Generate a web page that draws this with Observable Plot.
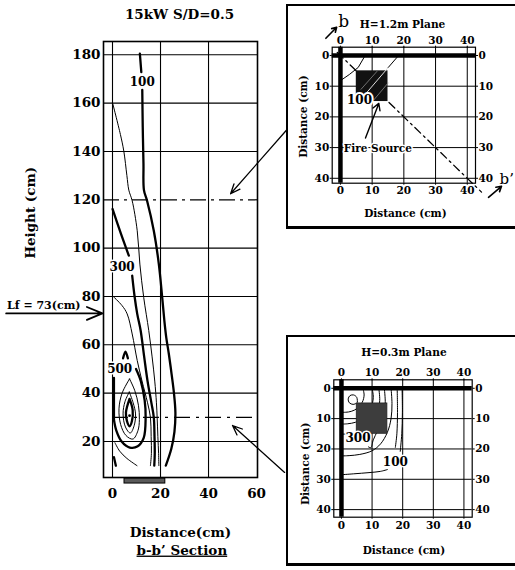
<!DOCTYPE html>
<html><head><meta charset="utf-8">
<script src="https://cdn.jsdelivr.net/npm/d3@7"></script>
<script src="https://cdn.jsdelivr.net/npm/@observablehq/plot@0.6"></script>
<style>
html,body{margin:0;padding:0;background:#fff;}
#page{position:relative;width:515px;height:570px;overflow:hidden;background:#fff;}
#page svg{position:absolute;}
.box{position:absolute;border:2px solid #000;border-bottom:3px solid #000;border-right:none;background:#fff;}
</style></head><body><div id="page"></div>
<script>
const FONT = "DejaVu Serif";
// ---------- main chart (b-b' section) ----------
const xTicks = [0, 20, 40, 60];
const yTicks = [20, 40, 60, 80, 100, 120, 140, 160, 180];
const xGrid = [0, 20, 40];
const yGrid = [20, 40, 60, 80, 100, 140, 160, 180];
const c100a = [[11.4,180.5],[12.0,172.8]];
const c100b = [[12.4,165.5],[12.6,150],[12.9,135],[13.1,124],[14.4,119.6],[17.2,107.2],[19.3,93.4],[20.7,79.6],[21.6,70],[22.4,63],[23.5,56],[24.6,48],[25.6,40],[26.2,32],[25.8,24],[24.5,17],[22.2,10]];
const c200 = [[0,160.2],[3.3,147],[4.7,140.2],[6.0,130],[6.8,124],[8.2,119.6],[10.3,107.2],[11.4,93.4],[13,79.6],[15.1,65.9],[16.5,55],[17.6,45],[18.3,36],[18.6,30],[18.9,22],[19.2,15],[19.3,10]];
const c300a = [[0,116.2],[3.5,106],[6.8,96.9]];
const c300b = [[8.2,88.6],[9.2,80],[10.3,72.8],[11.7,66],[13.2,55],[14.6,45],[16.2,36],[17.2,30],[17.5,22],[17.6,15],[17.4,10]];
const c400 = [[0,80.3],[4,76.2],[6.1,72.8],[8.2,64.5],[10.3,53.5],[12.3,45],[14.6,36],[15.8,30],[16.1,22],[16.2,15],[15.8,10]];
const c500 = [[0.6,29],[1.6,24.5],[3.8,20],[7.2,17.5],[10.5,18],[13,21.5],[13.8,30],[13.4,37],[11.8,45],[9.8,50]];
const c500wall = [[0.6,46.3],[0.6,29]];
const caret = [[4.4,54.4],[5.4,57.2],[6.4,54.4]];
const c600 = [[7.1,45.9],[9.3,41],[10.8,35],[11.2,29],[10.6,24.5],[8.5,21],[5.6,22.5],[3.4,27],[2.7,33.5],[4,40],[7.1,45.9]];
const c700 = [[7,40.5],[8.6,36],[9.6,31.4],[9,26.5],[7.4,23.5],[5.4,26],[4.4,31.4],[5.2,36.5],[7,40.5]];
const c800 = [[7.1,37.6],[8.4,33],[8.1,28.5],[7.1,26.3],[6,28.5],[5.6,32],[7.1,37.6]];
const cLow = [[1,19.5],[3,16],[6,13],[10.2,10]];
const cLowThick = [[0.6,13.5],[1.4,10]];
const hotSpot = [[7.1,30.7]];
const mainLabels = [["100",12.4,168.8],["300",4,92.3],["500",3,50]];
const sourceSpan = [5, 22];
const lf = 73;

const thickMain = [c100a, c100b, c300a, c300b, c500, c500wall, c800, caret, cLowThick];
const thinMain = [c200, c400, c600, c700, cLow];
const toRows = (list) => list.flatMap((pts, k) => pts.map(([x, y]) => ({x, y, k})));

const main = Plot.plot({
  width: 515, height: 570,
  marginLeft: 103, marginRight: 258, marginTop: 41, marginBottom: 93,
  x: {domain: [-3.75, 60.4]},
  y: {domain: [5.1, 185.5]},
  style: {fontFamily: FONT, fontSize: "13.5px", fontWeight: "bold", background: "transparent", color: "#000"},
  marks: [
    Plot.ruleX(xGrid, {stroke: "#000", strokeWidth: 1.1}),
    Plot.ruleY(yGrid, {stroke: "#000", strokeWidth: 1.1}),
    Plot.ruleY([120], {stroke: "#000", strokeWidth: 1.2, strokeDasharray: "16,5,3,5"}),
    Plot.ruleY([30], {x1: 0, x2: 60, stroke: "#000", strokeWidth: 1.3, strokeDasharray: "16,6,3,6"}),
    Plot.frame({stroke: "#000", strokeWidth: 1.6}),
    Plot.axisX({ticks: xTicks, tickSize: 0, tickPadding: 11, label: null}),
    Plot.axisY({ticks: yTicks, tickSize: 0, tickPadding: 3, label: null}),
    Plot.line(toRows(thinMain), {x: "x", y: "y", z: "k", stroke: "#000", strokeWidth: 1, curve: "catmull-rom"}),
    Plot.line(toRows(thickMain), {x: "x", y: "y", z: "k", stroke: "#000", strokeWidth: 2.3, curve: "catmull-rom"}),
    Plot.dot(hotSpot, {x: d => d[0], y: d => d[1], r: 1.4, fill: "#000"}),
    Plot.text(mainLabels, {x: d => d[1], y: d => d[2], text: d => d[0], fontSize: 12, fill: "#000", stroke: "#fff", strokeWidth: 3, paintOrder: "stroke"}),
    Plot.rect([sourceSpan], {x1: d => d[0], x2: d => d[1], y1: 4.6, y2: 2.6, fill: "#5a5a5a", stroke: "#000", strokeWidth: 1}),
    Plot.arrow([{x1: -44.3, x2: -4.2, y: lf}], {x1: "x1", x2: "x2", y1: "y", y2: "y", stroke: "#000", strokeWidth: 1.8, headLength: 14, headAngle: 45}),
    Plot.text(["Lf = 73(cm)"], {x: -43.9, y: 76.4, text: d => d, textAnchor: "start", fontSize: 11}),
    Plot.arrow([{x1: 72.9, y1: 149.3, x2: 49.2, y2: 122.5}, {x1: 71.7, y1: 7.2, x2: 50, y2: 26.6}],
      {x1: "x1", y1: "y1", x2: "x2", y2: "y2", stroke: "#000", strokeWidth: 1.3, headLength: 12, headAngle: 45}),
    Plot.text(["15kW S/D=0.5"], {x: 27.9, y: 196.4, text: d => d, fontSize: 13.5}),
    Plot.text(["Height (cm)"], {x: -34.2, y: 114.6, text: d => d, rotate: -90, fontSize: 13.5}),
    Plot.text(["Distance(cm)"], {x: 28.3, y: -17.6, text: d => d, fontSize: 13.5}),
    Plot.text(["b-b\u2019 Section"], {x: 28.9, y: -25, text: d => d, fontSize: 13.5})
  ]
});
main.style.left = "0px"; main.style.top = "0px";
main.querySelectorAll("text").forEach(t => { if (t.textContent === "b-b\u2019 Section") t.setAttribute("text-decoration", "underline"); });

// ---------- shared inset values ----------
const ticks10 = [0, 10, 20, 30, 40];
const grid10 = [10, 20, 30, 40];
const firePlan = [[5, 15, 5, 15]];
const insetAxes = (tp) => [
  Plot.axisX({anchor: "top", ticks: ticks10, tickSize: 2, tickPadding: tp, label: null}),
  Plot.axisX({anchor: "bottom", ticks: ticks10, tickSize: 2, tickPadding: tp, label: null}),
  Plot.axisY({anchor: "left", ticks: ticks10, tickSize: 2, tickPadding: 1, label: null}),
  Plot.axisY({anchor: "right", ticks: ticks10, tickSize: 2, tickPadding: 1, label: null})
];
const insetStyle = {fontFamily: FONT, fontSize: "10.5px", fontWeight: "bold", background: "transparent", color: "#000"};

// ---------- top inset: H=1.2m plane ----------
const t100a = [[0,8.2],[2.8,6.2],[5.6,3.9],[7.8,0]];
const t100b = [[15,4],[18.6,-0.3]];
const t100in = [[8.2,12.2],[15,4]];
const hatchTop = [[[10.5,14.5],[15,9]], [[6.5,11],[11.5,5.2]]];
const diag = [[-1,-1],[44.5,44.5]];
const topLabels = [["100", 6, 14.6]];

const topInset = Plot.plot({
  width: 225, height: 215, marginLeft: 41.7, marginRight: 40, marginTop: 38.7, marginBottom: 40.3,
  x: {domain: [-2.6, 42.6]}, y: {domain: [-2.7, 41.6], reverse: true},
  style: insetStyle,
  marks: [
    Plot.ruleX(grid10, {stroke: "#000", strokeWidth: 1}),
    Plot.ruleY(grid10, {stroke: "#000", strokeWidth: 1}),
    Plot.frame({stroke: "#000", strokeWidth: 1.2}),
    ...insetAxes(1),
    Plot.line(diag, {x: d => d[0], y: d => d[1], stroke: "#000", strokeWidth: 1.3, strokeDasharray: "8,4,2,4"}),
    Plot.line(t100a, {x: d => d[0], y: d => d[1], stroke: "#000", strokeWidth: 1}),
    Plot.line(t100b, {x: d => d[0], y: d => d[1], stroke: "#000", strokeWidth: 1}),
    Plot.rect(firePlan, {x1: d => d[0], x2: d => d[1], y1: d => d[2], y2: d => d[3], fill: "#111"}),
    Plot.line(t100in, {x: d => d[0], y: d => d[1], stroke: "#ddd", strokeWidth: 1}),
    Plot.line(hatchTop.flatMap((s, k) => s.map(p => ({x: p[0], y: p[1], k}))), {x: "x", y: "y", z: "k", stroke: "#888", strokeWidth: 0.8}),
    Plot.ruleX([0], {stroke: "#000", strokeWidth: 4.5}),
    Plot.ruleY([0], {stroke: "#000", strokeWidth: 4.5}),
    Plot.text(topLabels, {x: d => d[1], y: d => d[2], text: d => d[0], fontSize: 12, fill: "#000", stroke: "#fff", strokeWidth: 4, paintOrder: "stroke"}),
    Plot.arrow([{x1: 7.9, y1: 26.9, x2: 12.1, y2: 15.6}], {x1: "x1", y1: "y1", x2: "x2", y2: "y2", stroke: "#000", strokeWidth: 1.4, headLength: 8}),
    Plot.arrow([{x1: -4.6, y1: -5.6, x2: -1.2, y2: -9.2}, {x1: 46.7, y1: 46.2, x2: 50.8, y2: 42.6}],
      {x1: "x1", y1: "y1", x2: "x2", y2: "y2", stroke: "#000", strokeWidth: 1.6, headLength: 6}),
    Plot.text(["Fire Source"], {x: 11.8, y: 30.4, text: d => d, fontSize: 10.5, fill: "#000", stroke: "#fff", strokeWidth: 3, paintOrder: "stroke"}),
    Plot.text(["H=1.2m Plane"], {x: 19.6, y: -10.2, text: d => d, fontSize: 10.6}),
    Plot.text(["b"], {x: 1, y: -10.9, text: d => d, fontSize: 17, fontWeight: "normal"}),
    Plot.text(["b\u2019"], {x: 50.2, y: 40.4, text: d => d, fontSize: 15, fontWeight: "normal", textAnchor: "start"}),
    Plot.text(["Distance (cm)"], {x: 20.5, y: 51.6, text: d => d, fontSize: 10.5}),
    Plot.text(["Distance (cm)"], {x: -11.7, y: 19.9, text: d => d, fontSize: 10.5, rotate: -90})
  ]
});
topInset.style.left = "290px"; topInset.style.top = "8px";

// ---------- bottom inset: H=0.3m plane ----------
const loop = [[5.2,4.6],[5.0,3.0],[4.0,2.2],[2.8,2.4],[2.2,3.5],[2.6,4.8],[3.8,5.3],[4.8,5.0]];
const r1 = [[7,0],[7.4,2.2],[6.8,4.6],[5.2,6.6],[3.2,7.6],[1.4,7.9],[0,7.9]];
const r2 = [[10,0],[10.4,3],[9.6,6.6],[7.6,9.6],[4.6,11.2],[2,11.7],[0,11.8]];
const r3 = [[12.2,0],[12.5,4],[11.8,8.5],[9.8,12.5],[6.8,14.4],[4,15],[1.5,15.1],[0,15.1]];
const b300 = [[14,0],[14.3,5],[13.6,10],[11.8,14],[10.4,17],[9.6,19.6],[8.8,19.3]];
const r5 = [[16.2,0],[16.5,5],[16.2,10],[15,14.5],[12.8,18.3],[10,20.6],[6,21.8],[2.5,22.2],[0,22.3]];
const b100a = [[18.2,0],[18.3,8],[18.1,15],[17.6,19.5]];
const b100b = [[19.8,0],[19.9,8],[19.7,15],[19.2,20.8]];
const b100c = [[15,26.8],[12.7,27.4],[9,27.8],[4,28.2],[0,28.5]];
const bottomLabels = [["300", 5.4, 16.6], ["100", 17.6, 24.4]];
const bottomContours = [loop, r1, r2, r3, b300, r5, b100a, b100b, b100c];

const botInset = Plot.plot({
  width: 225, height: 222, marginLeft: 43.3, marginRight: 43.3, marginTop: 39.3, marginBottom: 45.3,
  x: {domain: [-2.5, 42.7]}, y: {domain: [-2.8, 42.5], reverse: true},
  style: insetStyle,
  marks: [
    Plot.ruleX(grid10, {stroke: "#000", strokeWidth: 1}),
    Plot.ruleY(grid10, {stroke: "#000", strokeWidth: 1}),
    Plot.frame({stroke: "#000", strokeWidth: 1.2}),
    ...insetAxes(2),
    Plot.line(toRows(bottomContours), {x: "x", y: "y", z: "k", stroke: "#000", strokeWidth: 1, curve: "catmull-rom"}),
    Plot.rect(firePlan, {x1: d => d[0], x2: d => d[1], y1: d => d[2], y2: d => d[3], fill: "#3d3d3d", stroke: "#222", strokeWidth: 0.8}),
    Plot.ruleX([0], {stroke: "#000", strokeWidth: 4.5}),
    Plot.ruleY([0], {stroke: "#000", strokeWidth: 4.5}),
    Plot.text(bottomLabels, {x: d => d[1], y: d => d[2], text: d => d[0], fontSize: 12, fill: "#000", stroke: "#fff", strokeWidth: 3, paintOrder: "stroke"}),
    Plot.text(["H=0.3m Plane"], {x: 20.4, y: -11.9, text: d => d, fontSize: 10.6}),
    Plot.text(["Distance (cm)"], {x: 20.4, y: 53.6, text: d => d, fontSize: 10.5}),
    Plot.text(["Distance (cm)"], {x: -11.8, y: 24.9, text: d => d, fontSize: 10.5, rotate: -90})
  ]
});
botInset.style.left = "290px"; botInset.style.top = "340px";

// ---------- assemble ----------
const page = document.getElementById("page");
page.appendChild(main);
const box1 = document.createElement("div");
box1.className = "box"; Object.assign(box1.style, {left: "286px", top: "4px", width: "240px", height: "220px"});
const box2 = document.createElement("div");
box2.className = "box"; Object.assign(box2.style, {left: "286px", top: "335px", width: "240px", height: "226px"});
page.appendChild(box1);
page.appendChild(box2);
page.appendChild(topInset);
page.appendChild(botInset);
</script></body></html>
